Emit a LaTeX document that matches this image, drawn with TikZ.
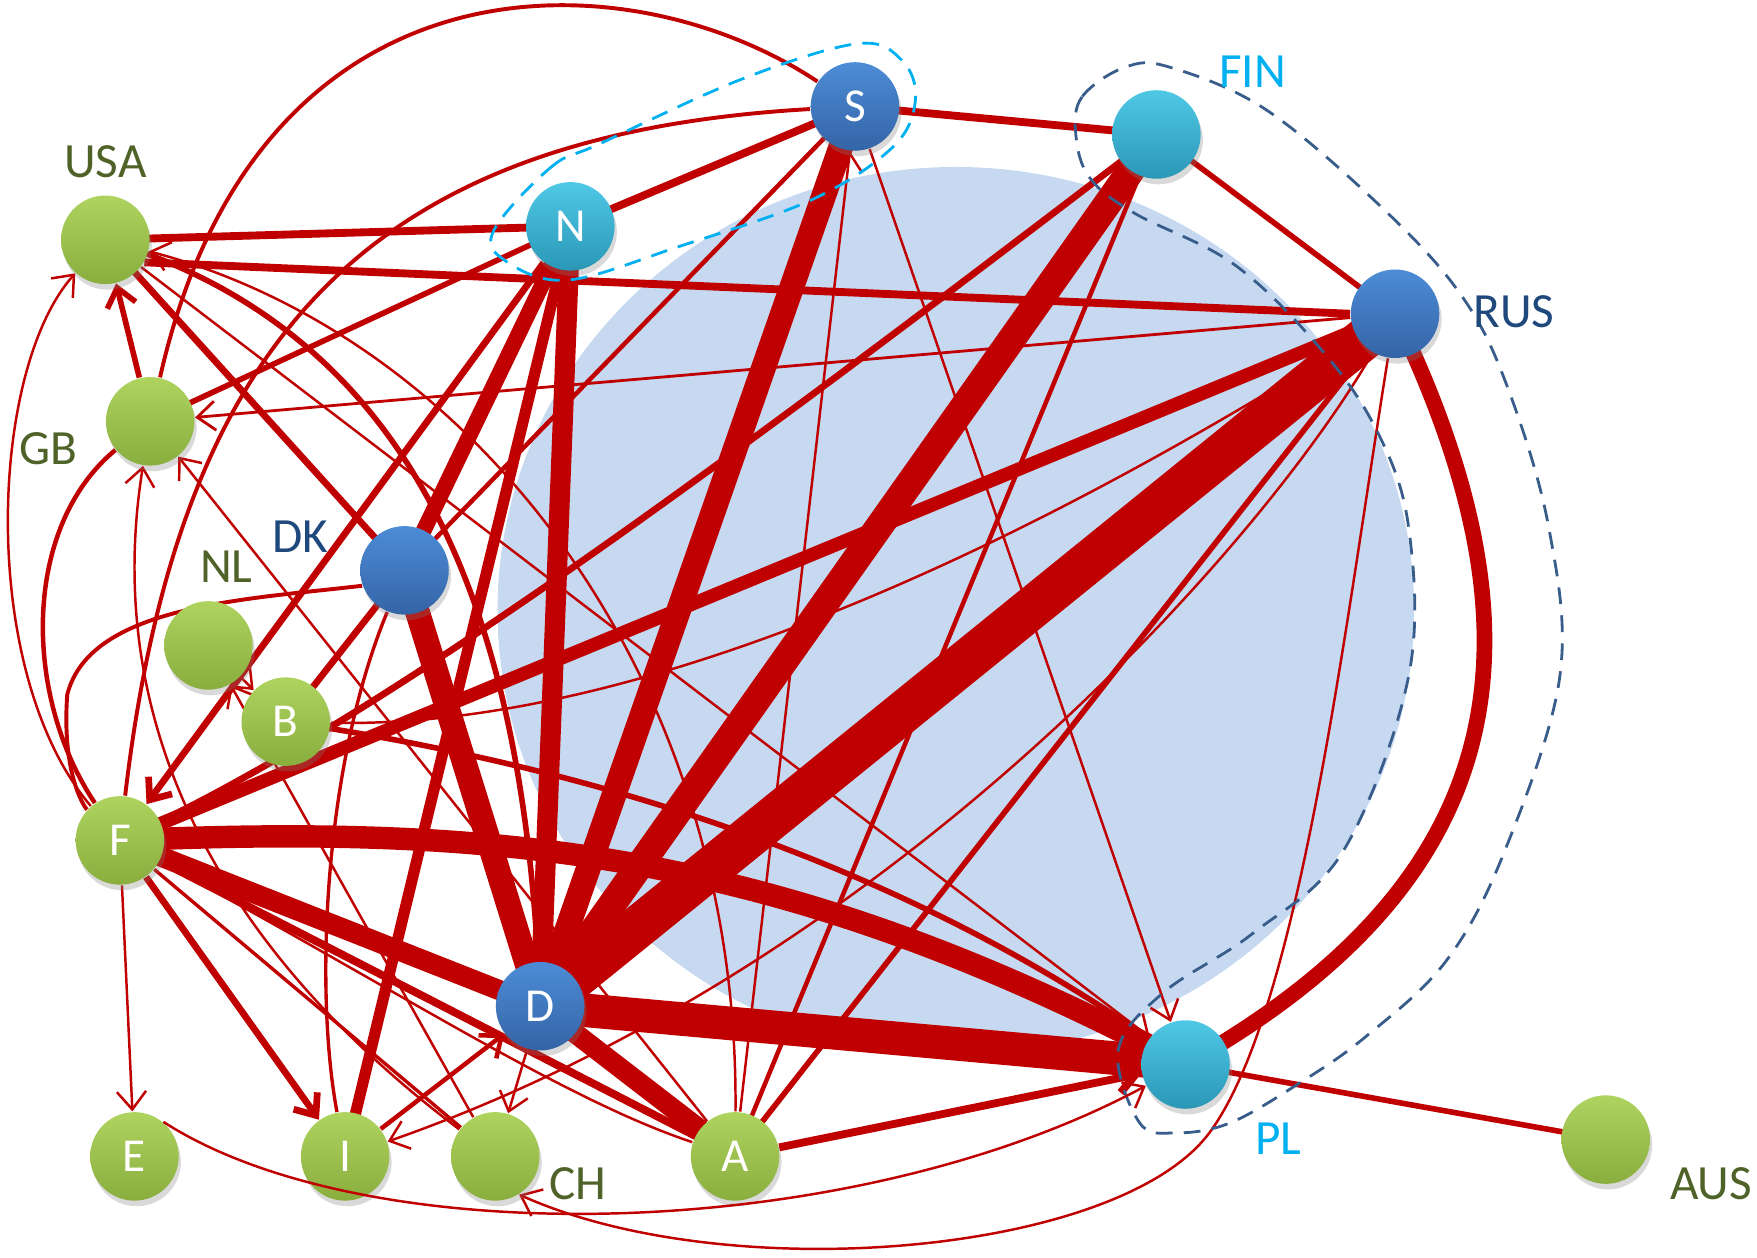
\documentclass[tikz,border=0pt]{standalone}
\usepackage{fontspec}
\setmainfont{Carlito}
\usetikzlibrary{arrows.meta,shadows}

\definecolor{lred}{HTML}{C00000}
\definecolor{skyfill}{HTML}{C6D9F1}
\definecolor{olivetxt}{HTML}{4F6228}
\definecolor{navytxt}{HTML}{1F497D}
\definecolor{cyantxt}{HTML}{00B0F0}
\definecolor{rimblue}{HTML}{385D8A}
\definecolor{grntop}{HTML}{AED35F}
\definecolor{grnbot}{HTML}{8AAE3E}
\definecolor{blutop}{HTML}{4D8CD6}
\definecolor{blubot}{HTML}{3464A6}
\definecolor{cyntop}{HTML}{4FC8E6}
\definecolor{cynbot}{HTML}{2B97B7}

\pgfdeclarelayer{back}
\pgfdeclarelayer{links}
\pgfsetlayers{back,links,main}

\begin{document}
\begin{tikzpicture}[x=0.1mm,y=-0.1mm,>={Straight Barb[length=1.6mm,width=2.6mm]},
  ball/.style={circle,minimum size=7.9mm,inner sep=0pt,text=white,
    font=\fontsize{12}{14}\selectfont,
    drop shadow={opacity=0.3,shadow xshift=0.2mm,shadow yshift=-0.5mm}},
  grn/.style={ball,top color=grntop,bottom color=grnbot},
  blu/.style={ball,top color=blutop,bottom color=blubot},
  cyn/.style={ball,top color=cyntop,bottom color=cynbot},
  tag/.style={font=\fontsize{12.5}{15}\selectfont},
  lk/.style={draw=lred,line width=#1*0.1mm},
  group/.style={dashed,line width=0.25mm,dash pattern=on 1.5mm off 1mm}]
  \useasboundingbox (0,0) rectangle (1568,1122);

  % core region
  \begin{pgfonlayer}{back}
    \fill[skyfill] (853,545) ellipse [x radius=40.9mm, y radius=39.6mm];
  \end{pgfonlayer}

  % groups
  \draw[group,cyantxt] plot[smooth cycle,tension=0.6] coordinates {(441,205) (492,149) (536,128)
    (661,71) (765,39) (805,54) (817,89) (797,131) (725,178) (606,220) (506,250) (450,232)};
  \draw[group,rimblue] plot[smooth cycle,tension=0.6] coordinates {(960,119) (966,86) (1004,60)
    (1044,60) (1130,98) (1233,185) (1303,262) (1344,342) (1382,470) (1392,604) (1343,759)
    (1291,857) (1219,925) (1159,967) (1098,1002) (1050,1011) (1017,1002) (998,937) (1038,886)
    (1118,833) (1199,759) (1257,604) (1257,470) (1227,381) (1174,306) (1100,235) (1012,190)
    (972,158)};

  % countries
  \node[blu] (S) at (763,95) {S};
  \node[cyn] (FIN) at (1032,120) {};
  \node[blu] (RUS) at (1245,280) {};
  \node[cyn] (N) at (509,202) {N};
  \node[grn] (USA) at (94,214) {};
  \node[grn] (GB) at (134,376) {};
  \node[blu] (DK) at (361,509) {};
  \node[grn] (NL) at (186,576) {};
  \node[grn] (B) at (255,644) {B};
  \node[grn] (F) at (107,750) {F};
  \node[blu] (D) at (482,898) {D};
  \node[cyn] (PL) at (1058,950) {};
  \node[grn] (E) at (120,1032) {E};
  \node[grn] (I) at (308,1032) {I};
  \node[grn] (CH) at (442,1032) {};
  \node[grn] (A) at (656,1032) {A};
  \node[grn] (AUS) at (1433,1017) {};

  % names
  \node[tag,text=olivetxt] (tUSA) at (94,144) {USA};
  \node[tag,text=olivetxt] (tGB) at (43,400) {GB};
  \node[tag,text=navytxt] (tDK) at (268,479) {DK};
  \node[tag,text=olivetxt] (tNL) at (202,506) {NL};
  \node[tag,text=cyantxt] (tFIN) at (1118,64) {FIN};
  \node[tag,text=navytxt] (tRUS) at (1351,278) {RUS};
  \node[tag,text=cyantxt] (tPL) at (1141,1016) {PL};
  \node[tag,text=olivetxt] (tCH) at (516,1056) {CH};
  \node[tag,text=olivetxt] (tAUS) at (1527,1056) {AUS};

  \begin{pgfonlayer}{links}
    % heavy flows
    \draw[lk=38] (RUS.center) -- (D.center);
    \draw[lk=30] (D.center) -- (PL.center);
    \draw[lk=25] (FIN.center) -- (D.center);
    \draw[lk=22] (S.center) -- (D.center);
    \draw[lk=22] (DK.center) -- (D.center);
    \draw[lk=18] (N.center) -- (D.center);
    \draw[lk=18] (F.center) -- (D.center);
    \draw[lk=18] (D.center) -- (A.center);
    \draw[lk=20] (F.center) .. controls (450,735) and (700,760) .. (PL.center);
    \draw[lk=14] (RUS.center) .. controls (1380,560) and (1360,780) .. (PL.center);
    \draw[lk=14] (N.center) -- (DK.center);
    \draw[lk=12] (F.center) -- (RUS.center);
    \draw[lk=10] (N.center) -- (I.center);
    % medium flows
    \draw[lk=7] (USA.-30) -- (RUS.west);
    \draw[lk=7] (USA.center) -- (N.center);
    \draw[lk=7] (N.center) -- (S.center);
    \draw[lk=7] (S.center) -- (FIN.center);
    \draw[lk=7] (F.center) -- (A.center);
    \draw[lk=7,->] (A) -- (PL);
    \draw[lk=6] (FIN.center) .. controls (640,420) and (330,650) .. (F.center);
    \draw[lk=6] (DK.center) -- (B.center);
    \draw[lk=6] (USA.center) -- (DK.center);
    \draw[lk=6,->] (N) -- (F);
    \draw[lk=6,->] (F) -- (I);
    \draw[lk=5,->] (GB) -- (USA);
    \draw[lk=5] (PL.center) -- (AUS.center);
    \draw[lk=5] (FIN.center) -- (RUS.center);
    \draw[lk=5] (N.center) -- (GB.center);
    \draw[lk=5] (A.center) -- (RUS.center);
    \draw[lk=5] (B.center) .. controls (500,680) and (800,760) .. (PL.center);
    \draw[lk=5] (USA.center) .. controls (380,300) and (470,560) .. (D.center);
    \draw[lk=4] (S.center) -- (DK.center);
    \draw[lk=4] (A.center) -- (FIN.center);
    \draw[lk=4,->] (I) -- (D);
    \draw[lk=4] (GB) .. controls (20,470) and (20,620) .. (F);
    % light flows
    \draw[lk=3.5] (GB) .. controls (230,-50) and (560,-40) .. (S);
    \draw[lk=3.5] (F) .. controls (160,300) and (330,120) .. (S);
    \draw[lk=3.5] (DK.200) .. controls (220,535) and (80,540) .. (60,620) .. controls (55,690) and (75,720) .. (F);
    \draw[lk=3] (DK) .. controls (290,680) and (280,880) .. (I);
    \draw[lk=3] (F) -- (CH);
    \draw[lk=2.5,->] (RUS) -- (GB);
    \draw[lk=2.2,->] (F) -- (E);
    \draw[lk=2.2,->] (F) .. controls (-20,600) and (-10,330) .. (USA);
    \draw[lk=2.2,->] (A) -- (S);
    \draw[lk=2.2,->] (S) -- (PL);
    \draw[lk=2.2,->] (USA) -- (PL);
    \draw[lk=2.2,->] (A) -- (GB);
    \draw[lk=2.2,->] (CH) -- (NL);
    \draw[lk=2.2,->] (NL) -- (B);
    \draw[lk=2.2,->] (D) -- (CH);
    \draw[lk=2.2,->] (RUS) .. controls (1200,560) and (1160,900) .. (1080,1010)
      .. controls (1000,1120) and (650,1150) .. (CH.-58);
    \draw[lk=2.2,->] (CH) .. controls (200,850) and (90,650) .. (GB);
    \draw[lk=2.2,->] (RUS) .. controls (1130,480) and (800,860) .. (I);
    \draw[lk=2.2] (B) .. controls (500,650) and (800,560) .. (RUS);
    \draw[lk=2.2,->] (A) .. controls (660,600) and (420,300) .. (USA);
    \draw[lk=2.2] (F) .. controls (350,880) and (500,980) .. (A);
  \end{pgfonlayer}
  % this one runs across I
  \draw[lk=2.2,->] (E.50) .. controls (330,1120) and (760,1110) .. (PL);
\end{tikzpicture}
\end{document}
